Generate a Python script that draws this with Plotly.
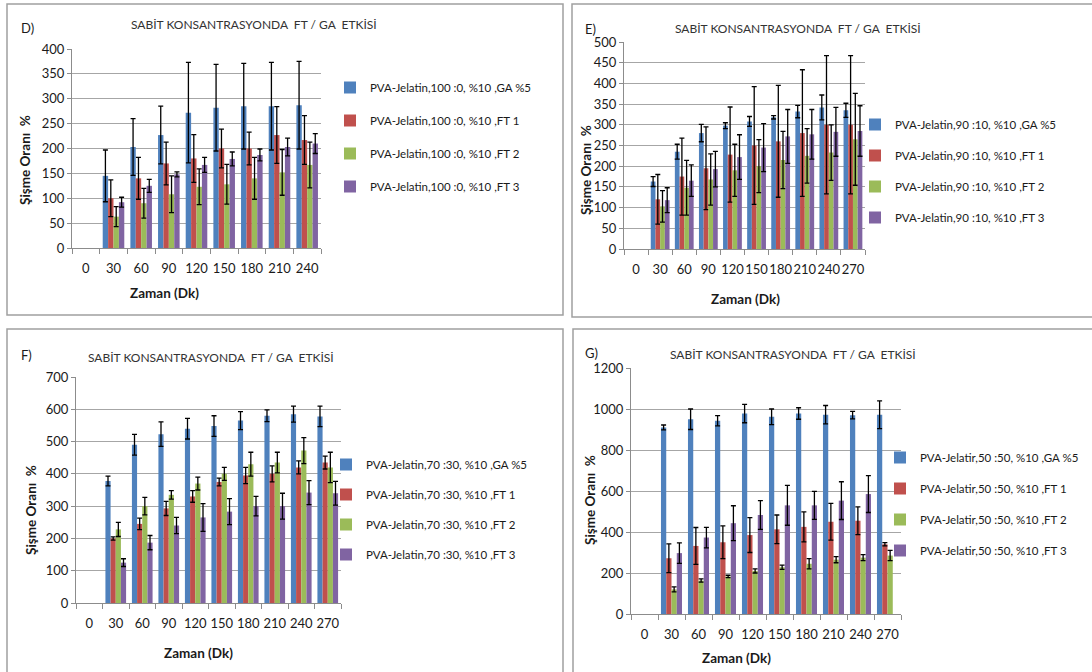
import plotly.graph_objects as go

# ---------------- data ----------------
cats_D = ["0", "30", "60", "90", "120", "150", "180", "210", "240"]
cats_EFG = ["0", "30", "60", "90", "120", "150", "180", "210", "240", "270"]

names_D = ["PVA-Jelatin,100 :0, %10 ,GA %5", "PVA-Jelatin,100 :0, %10 ,FT 1",
           "PVA-Jelatin,100 :0, %10 ,FT 2", "PVA-Jelatin,100 :0, %10 ,FT 3"]
names_E = ["PVA-Jelatin,90 :10, %10 ,GA %5", "PVA-Jelatin,90 :10, %10 ,FT 1",
           "PVA-Jelatin,90 :10, %10 ,FT 2", "PVA-Jelatin,90 :10, %10 ,FT 3"]
names_F = ["PVA-Jelatin,70 :30, %10 ,GA %5", "PVA-Jelatin,70 :30, %10 ,FT 1",
           "PVA-Jelatin,70 :30, %10 ,FT 2", "PVA-Jelatin,70 :30, %10 ,FT 3"]
names_G = ["PVA-Jelatir,50 :50, %10 ,GA %5", "PVA-Jelatir,50 :50, %10 ,FT 1",
           "PVA-Jelatir,50 :50, %10 ,FT 2", "PVA-Jelatir,50 :50, %10 ,FT 3"]

# Panel D (0..240)
D_GA = [None, 145, 203, 227, 272, 282, 285, 285, 287]
D_GA_err = [None, 52, 57, 58, 101, 87, 86, 88, 88]
D_FT1 = [None, 100, 140, 170, 180, 200, 200, 227, 217]
D_FT1_err = [None, 37, 42, 43, 48, 39, 33, 57, 49]
D_FT2 = [None, 63, 90, 108, 123, 128, 140, 152, 167]
D_FT2_err = [None, 20, 30, 37, 36, 40, 42, 46, 46]
D_FT3 = [None, 92, 125, 148, 167, 179, 187, 203, 210]
D_FT3_err = [None, 10, 13, 5, 15, 14, 12, 18, 20]

# Panel E (0..270)
E_GA = [None, 163, 235, 280, 298, 308, 318, 332, 342, 335]
E_GA_err = [None, 12, 18, 21, 7, 12, 4, 15, 30, 17]
E_FT1 = [None, 120, 175, 195, 228, 250, 260, 280, 300, 300]
E_FT1_err = [None, 60, 93, 100, 115, 142, 135, 153, 167, 167]
E_FT2 = [None, 103, 148, 168, 190, 200, 215, 225, 233, 265]
E_FT2_err = [None, 38, 66, 62, 63, 64, 69, 66, 67, 111]
E_FT3 = [None, 118, 165, 193, 222, 245, 272, 277, 283, 285]
E_FT3_err = [None, 30, 38, 43, 54, 58, 65, 60, 59, 61]

# Panel F (0..270)
F_GA = [None, 378, 490, 523, 540, 548, 565, 580, 585, 578]
F_GA_err = [None, 15, 32, 38, 32, 32, 28, 18, 25, 32]
F_FT1 = [None, 200, 245, 293, 330, 375, 395, 400, 420, 435]
F_FT1_err = [None, 5, 18, 22, 18, 12, 25, 25, 20, 20]
F_FT2 = [None, 228, 300, 335, 370, 400, 430, 435, 472, 420]
F_FT2_err = [None, 22, 27, 13, 20, 20, 37, 32, 40, 47]
F_FT3 = [None, 125, 187, 240, 265, 283, 300, 300, 342, 340]
F_FT3_err = [None, 12, 22, 25, 43, 40, 30, 40, 37, 37]

# Panel G (0..270)
G_GA = [None, 910, 950, 943, 978, 962, 978, 972, 970, 972]
G_GA_err = [None, 12, 50, 25, 45, 38, 28, 45, 18, 68]
G_FT1 = [None, 272, 332, 350, 385, 413, 425, 450, 455, 340]
G_FT1_err = [None, 70, 90, 80, 85, 70, 73, 90, 68, 8]
G_FT2 = [None, 120, 163, 183, 210, 228, 245, 265, 275, 285]
G_FT2_err = [None, 12, 8, 6, 10, 10, 25, 15, 15, 25]
G_FT3 = [None, 297, 373, 443, 483, 530, 530, 553, 585, None]
G_FT3_err = [None, 50, 50, 85, 70, 97, 68, 92, 90, None]

title_text = "SABİT KONSANTRASYONDA  FT / GA  ETKİSİ"
ytitle_text = "Şişme Oranı  %"
xtitle_text = "Zaman (Dk)"

colors = ["#4F81BD", "#C0504D", "#9BBB59", "#8064A2"]

FONT = "Lato, Roboto, Liberation Sans, sans-serif"
W, H = 1092, 672


def px(x):
    return x / W


def py(y):
    return 1 - y / H


fig = go.Figure()

panels = [
    dict(cats=cats_D, names=names_D, vals=[D_GA, D_FT1, D_FT2, D_FT3],
         errs=[D_GA_err, D_FT1_err, D_FT2_err, D_FT3_err], xa="x", ya="y", leg="legend",
         xd=(72, 321), yd=(248, 49), yr=(0, 400), dt=50,
         box=(7, 4, 563, 315), label="D)", lab_xy=(27, 28), title_xy=(254, 25),
         xt_xy=(164, 293), yt_xy=(25, 160), leg_txt=(368, 86), leg_gap=14),
    dict(cats=cats_EFG, names=names_E, vals=[E_GA, E_FT1, E_FT2, E_FT3],
         errs=[E_GA_err, E_FT1_err, E_FT2_err, E_FT3_err], xa="x2", ya="y2", leg="legend2",
         xd=(624, 865), yd=(249, 42), yr=(0, 500), dt=50,
         box=(572, 4, 1095, 317), label="E)", lab_xy=(590, 29), title_xy=(798, 29),
         xt_xy=(745, 299), yt_xy=(586, 170), leg_txt=(893, 123), leg_gap=12),
    dict(cats=cats_EFG, names=names_F, vals=[F_GA, F_FT1, F_FT2, F_FT3],
         errs=[F_GA_err, F_FT1_err, F_FT2_err, F_FT3_err], xa="x3", ya="y3", leg="legend3",
         xd=(76, 341), yd=(603, 377), yr=(0, 700), dt=100,
         box=(7, 329, 563, 680), label="F)", lab_xy=(26, 355), title_xy=(211, 357),
         xt_xy=(198, 653), yt_xy=(31, 510), leg_txt=(364, 463), leg_gap=11),
    dict(cats=cats_EFG, names=names_G, vals=[G_GA, G_FT1, G_FT2, G_FT3],
         errs=[G_GA_err, G_FT1_err, G_FT2_err, G_FT3_err], xa="x4", ya="y4", leg="legend4",
         xd=(631, 901), yd=(614, 368), yr=(0, 1200), dt=200,
         box=(573, 329, 1095, 680), label="G)", lab_xy=(591, 353), title_xy=(793, 354),
         xt_xy=(736, 658), yt_xy=(590, 500), leg_txt=(918, 456), leg_gap=12),
]

annotations = []
shapes = []
layout_axes = {}


def ann(text, xy, size, color="#1a1a1a", angle=0):
    return dict(text=text, x=px(xy[0]), y=py(xy[1]), xref="paper", yref="paper",
                xanchor="center", yanchor="middle", showarrow=False, textangle=angle,
                font=dict(family=FONT, size=size, color=color))


for i, p in enumerate(panels):
    for k in range(4):
        fig.add_trace(go.Bar(
            x=p["cats"], y=p["vals"][k], name=p["names"][k],
            marker=dict(color=colors[k], line=dict(width=0)),
            error_y=dict(type="data", array=p["errs"][k], visible=True,
                         color="black", thickness=1.3, width=2.5),
            xaxis=p["xa"], yaxis=p["ya"], legend=p["leg"],
            legendgroup=f"{p['leg']}_{k}",
        ))
    sfx = "" if i == 0 else str(i + 1)
    layout_axes["xaxis" + sfx] = dict(
        domain=[px(p["xd"][0]), px(p["xd"][1])], anchor="y" + sfx,
        type="category", categoryorder="array", categoryarray=p["cats"],
        showgrid=False, showline=True, linecolor="#8c8c8c", linewidth=1,
        ticks="outside", tickson="boundaries", ticklen=5, tickcolor="#8c8c8c",
        ticklabelstandoff=8, tickangle=0,
        tickfont=dict(family=FONT, size=13, color="#1a1a1a"), fixedrange=True,
    )
    layout_axes["yaxis" + sfx] = dict(
        domain=[py(p["yd"][0]), py(p["yd"][1])], anchor="x" + sfx,
        range=list(p["yr"]), dtick=p["dt"], showgrid=True, gridcolor="#a6a6a6",
        gridwidth=1, showline=True, linecolor="#8c8c8c", linewidth=1,
        ticks="outside", ticklen=4, tickcolor="#8c8c8c", zeroline=False,
        tickfont=dict(family=FONT, size=13, color="#1a1a1a"), fixedrange=True,
    )
    layout_axes[p["leg"]] = dict(
        x=px(p["leg_txt"][0] - 38), y=py(p["leg_txt"][1] - 13), xanchor="left", yanchor="top",
        font=dict(family=FONT, size=11.5, color="#1a1a1a"), bgcolor="rgba(0,0,0,0)",
        itemwidth=30, tracegroupgap=p["leg_gap"], traceorder="grouped",
    )
    bx = p["box"]
    shapes.append(dict(type="rect", xref="paper", yref="paper",
                       x0=px(bx[0]), y0=py(bx[1]), x1=px(bx[2]), y1=py(bx[3]),
                       line=dict(color="#a0a0a0", width=1.5), fillcolor="rgba(0,0,0,0)",
                       layer="below"))
    annotations.append(ann(p["label"], p["lab_xy"], 13))
    annotations.append(ann(title_text, p["title_xy"], 12, "#333333"))
    annotations.append(ann("<b>" + xtitle_text + "</b>", p["xt_xy"], 13.5))
    annotations.append(ann("<b>" + ytitle_text + "</b>", p["yt_xy"], 13.5, angle=-90))

fig.update_layout(
    width=W, height=H, margin=dict(l=0, r=0, t=0, b=0, autoexpand=False),
    paper_bgcolor="white", plot_bgcolor="white",
    barmode="group", bargap=0.22, bargroupgap=0.0,
    showlegend=True, annotations=annotations, shapes=shapes,
    **layout_axes,
)

fig.write_html("out.html", config={"displayModeBar": False},
               post_script="document.body.style.margin='0';")
